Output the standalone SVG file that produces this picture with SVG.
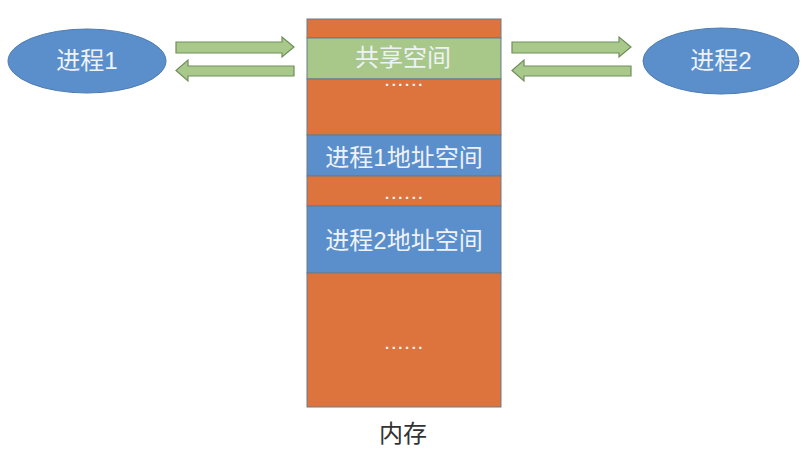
<svg xmlns="http://www.w3.org/2000/svg" width="802" height="459" viewBox="0 0 802 459">
<style>
.t{font-family:"Liberation Sans","Noto Sans CJK SC",sans-serif;fill:#EEF2F7;font-size:24px;text-anchor:middle;dominant-baseline:central}
.or{fill:#DD743E;stroke:#6B7A8A;stroke-width:1}
.bl{fill:#5A8FCC;stroke:#6B7A8A;stroke-width:1}
.gr{fill:#A8C88A;stroke:#6B7A8A;stroke-width:1}
.ell{fill:#5A8FCC;stroke:#4F7CB0;stroke-width:1}
.arr{fill:#A8C98A;stroke:#6E8F5B;stroke-width:1.2}
.dots{font-family:"Liberation Sans",sans-serif;fill:#F5F5F5;font-size:15px;text-anchor:middle;font-weight:bold;letter-spacing:2.5px}
</style>
<rect width="802" height="459" fill="#FFFFFF"/>
<g id="memory">
<rect class="or" x="307" y="19" width="194" height="19"/>
<rect class="gr" x="307" y="38" width="194" height="41"/>
<rect class="or" x="307" y="79" width="194" height="56"/>
<rect class="bl" x="307" y="135" width="194" height="41"/>
<rect class="or" x="307" y="176" width="194" height="30"/>
<rect class="bl" x="307" y="206" width="194" height="67"/>
<rect class="or" x="307" y="273" width="194" height="134"/>
<text class="t" x="403" y="57">共享空间</text>
<text class="dots" x="405" y="86">......</text>
<text class="t" x="404" y="157">进程1地址空间</text>
<text class="dots" x="405" y="199">......</text>
<text class="t" x="404" y="240">进程2地址空间</text>
<text class="dots" x="405" y="349">......</text>
<text x="403" y="433" font-family="Liberation Sans,Noto Sans CJK SC,sans-serif" font-size="24" fill="#333333" text-anchor="middle" dominant-baseline="central">内存</text>
</g>
<g id="process1">
<ellipse class="ell" cx="87" cy="61" rx="79" ry="32"/>
<text class="t" x="87" y="60">进程1</text>
</g>
<g id="process2">
<ellipse class="ell" cx="721" cy="61" rx="78" ry="33"/>
<text class="t" x="721" y="60">进程2</text>
</g>
<g id="connectors">
<path class="arr" d="M176,42 H282 V37 L294,47 L282,57 V53 H176 Z"/>
<path class="arr" d="M294,66 H188 V60 L176,70.5 L188,81 V76 H294 Z"/>
<path class="arr" d="M512,42 H619 V37 L631,47 L619,57 V53 H512 Z"/>
<path class="arr" d="M631,66 H524 V60 L512,70.5 L524,81 V76 H631 Z"/>
</g>
</svg>
